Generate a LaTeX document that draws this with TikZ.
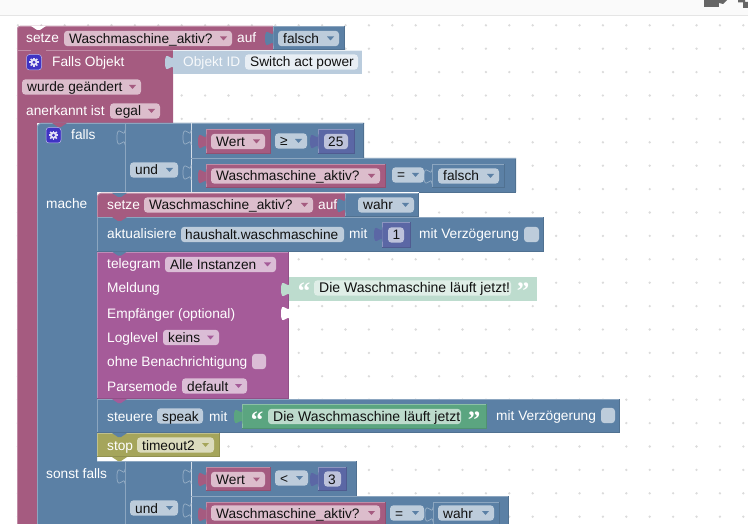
\documentclass[tikz,border=0pt]{standalone}
\usepackage{fontspec}
\setmainfont{Liberation Sans}
\newfontfamily\quotefont{Liberation Serif}
\definecolor{pinkb}{HTML}{A55B80}
\definecolor{blueb}{HTML}{5B80A5}
\definecolor{purpb}{HTML}{A55B99}
\definecolor{numb}{HTML}{5B67A5}
\definecolor{greenb}{HTML}{5BA580}
\definecolor{oliveb}{HTML}{A5A55B}
\definecolor{paleb}{HTML}{BACCDD}
\definecolor{mintb}{HTML}{BDDCCE}
\definecolor{pinkf}{HTML}{DCBDCC}
\definecolor{bluef}{HTML}{BDCCDB}
\definecolor{purpf}{HTML}{DBBDD6}
\definecolor{numf}{HTML}{BDC2DB}
\definecolor{greenf}{HTML}{BDDBCC}
\definecolor{olivef}{HTML}{DBDBBD}
\definecolor{mintf}{HTML}{DFEEE7}
\definecolor{palef}{HTML}{E8EEF4}
\definecolor{gearb}{HTML}{3F33C4}
\definecolor{inktext}{HTML}{111111}
\tikzset{
  lab/.style={anchor=base west,inner sep=0pt,text=white,yshift=-5pt,font=\fontsize{13.7}{16}\selectfont},
  val/.style={anchor=base west,inner sep=0pt,text=inktext,yshift=-5pt,font=\fontsize{13.7}{16}\selectfont},
  valw/.style={val,font=\fontsize{14}{16}\selectfont},
  qmark/.style={anchor=base,inner sep=0pt,text=white,yshift=-12pt,font=\quotefont\bfseries\fontsize{25}{25}\selectfont},
}
% block with bevel: colour x1 y1 x2 y2
\newcommand\blk[5]{%
  \fill[#1] (#2,#3) rectangle (#4,#5);
  \draw[#1!70!white,line width=.8pt] (#2+.4,#5) -- (#2+.4,#3+.4) -- (#4,#3+.4);
  \draw[#1!88!black,line width=.8pt] (#2,#5-.4) -- (#4-.4,#5-.4) -- (#4-.4,#3);
}
% puzzle tab: colour x ytop
\newcommand\tabl[3]{%
  \fill[#1] (#2+.5,#3) .. controls (#2,#3+10) and (#2-8,#3-8) .. (#2-8,#3+7.5)
     .. controls (#2-8,#3+23) and (#2,#3+5) .. (#2+.5,#3+15) -- cycle;
}
% empty input tab, outlined
\newcommand\tabo[3]{%
  \path[fill=#1,draw=#1!62!white,line width=.7pt] (#2,#3) .. controls (#2,#3+10) and (#2-8,#3-8) .. (#2-8,#3+7.5)
     .. controls (#2-8,#3+23) and (#2,#3+5) .. (#2,#3+15);
}
\newcommand\notchd[3]{\fill[#1] (#2,#3) -- (#2+6,#3+4) -- (#2+9,#3+4) -- (#2+15,#3) -- cycle;}
% field: fill x1 yc x2
\newcommand\fld[4]{\fill[#1,rounded corners=3.5pt] (#2,#3-7.7) rectangle (#4,#3+7.7);}
% dropdown field: fill arrowcolour x1 yc x2 text
\newcommand\dd[6]{%
  \fld{#1}{#3}{#4}{#5}
  \fill[#2] (#5-12,#4-2) -- (#5-5,#4-2) -- (#5-8.5,#4+2) -- cycle;
  \node[val] at (#3+5,#4) {#6};
}
\newcommand\gearic[2]{%
  \fill[gearb,rounded corners=3pt] (#1,#2) rectangle (#1+15,#2+15.5);
  \draw[white!65!gearb,line width=.5pt,rounded corners=3pt] (#1,#2) rectangle (#1+15,#2+15.5);
  \foreach \a in {0,45,...,315}{\draw[white!85!gearb,line width=1.5pt] (#1+7.5,#2+7.75) -- ++(\a:4.6pt);}
  \fill[white!85!gearb] (#1+7.5,#2+7.75) circle (3.5pt);
  \fill[gearb] (#1+7.5,#2+7.75) circle (1.6pt);
}
\begin{document}
\begin{tikzpicture}[x=1pt,y=-1pt]
\useasboundingbox (0,0) rectangle (748,524);
\fill[white] (0,0) rectangle (748,524);
% browser bar
\fill[black!2] (0,0) rectangle (748,15);
\fill[black!10] (0,14.6) rectangle (748,15.8);
\fill[black!60] (704,0) rectangle (719,7);
\fill[black!60] (719,0) -- (727,0) -- (723,4) -- (719,3) -- cycle;
\fill[black!60] (738,0) rectangle (745,2.5) (743,2) rectangle (748,8);
% workspace grid
\foreach \i in {0,...,31}{\foreach \j in {0,...,21}{
  \fill[black!14] (17.9+23.4*\i,25.3+23.4*\j) circle (1.3pt);
}}
% outer pink set block spine
\fill[pinkb] (17,29) arc[start angle=180,end angle=90,radius=3pt] -- (273,26) -- (273,50) -- (173,50) -- (173,123) -- (37,123) -- (37,530) -- (17,530) -- cycle;
\draw[pinkb!70!white,line width=.8pt] (17.4,524) -- (17.4,29) arc[start angle=180,end angle=90,radius=2.6pt] -- (273,26.4);
\draw[pinkb!70!white,line width=.7pt] (17,50.4) -- (31,50.4) (46,50.4) -- (173,50.4);
\fill[white] (31,26) -- (37,30) -- (40,30) -- (46,26) -- cycle;
\notchd{pinkb}{31}{50}
\blk{blueb}{273}{26}{345}{50}
\tabl{blueb}{273}{31}
% object id
\fill[paleb] (173,50) rectangle (362,74);
\draw[white!70!paleb,line width=.8pt] (173,50.4) -- (362,50.4);
\tabl{paleb}{173}{55}
% falls block
\fill[blueb] (37,127) arc[start angle=180,end angle=90,radius=4pt] -- (364,123) -- (364,158) -- (516,158) -- (516,192) -- (97,192) -- (97,530) -- (37,530) -- cycle;
\fill[blueb] (97,461) rectangle (357,524);
\fill[blueb] (357,496) rectangle (509,524);
\draw[blueb!70!white,line width=.8pt] (37.4,524) -- (37.4,127) arc[start angle=180,end angle=90,radius=3.6pt] -- (364,123.4);
\draw[blueb!88!black,line width=.8pt] (363.6,123) -- (363.6,158) -- (515.6,158) -- (515.6,192) -- (419,192);
\draw[blueb!70!white,line width=.8pt] (125,123) -- (125,192);
\draw[white!75!blueb,line width=.8pt] (191,123) -- (191,192);
\draw[blueb!70!white,line width=.8pt] (191,158) -- (516,158);
\draw[blueb!70!white,line width=.8pt] (125,461) -- (125,524);
\draw[white!75!blueb,line width=.8pt] (191,461) -- (191,524);
\draw[blueb!70!white,line width=.8pt] (191,496) -- (509,496);
\draw[blueb!70!white,line width=.8pt] (97,461.4) -- (357,461.4);
\draw[blueb!88!black,line width=.8pt] (356.6,461) -- (356.6,496);
\draw[blueb!88!black,line width=.8pt] (508.6,496) -- (508.6,524);
\notchd{pinkb}{52}{123}
\tabo{blueb}{125}{130}
\tabo{blueb}{191}{130}
\tabo{blueb}{191}{165}
\tabo{blueb}{125}{469}
\tabo{blueb}{191}{469}
\tabo{blueb}{191}{503}
% condition row 1
\blk{pinkb}{206}{129}{271}{154}
\tabl{pinkb}{206}{134}
\blk{numb}{318}{129}{355}{154}
\tabl{numb}{318}{134}
% condition row 2
\blk{pinkb}{206}{164}{386}{188}
\tabl{pinkb}{206}{169}
\blk{blueb}{432}{164}{505}{188}
\tabo{blueb}{432}{169}
% sonst falls row 1
\blk{pinkb}{206}{467}{271}{491}
\tabl{pinkb}{206}{472}
\blk{numb}{318}{467}{347}{491}
\tabl{numb}{318}{472}
% sonst falls row 2
\blk{pinkb}{206}{502}{386}{526}
\tabl{pinkb}{206}{507}
\blk{blueb}{433}{502}{500}{526}
\tabo{blueb}{433}{507}
% inner statements
\fill[pinkb] (97,197) arc[start angle=180,end angle=90,radius=4pt] -- (345,193) -- (345,218) -- (97,218) -- cycle;
\draw[pinkb!70!white,line width=.8pt] (97.4,218) -- (97.4,197) arc[start angle=180,end angle=90,radius=3.6pt] -- (345,193.4);
\notchd{blueb}{112}{193}
\blk{blueb}{345}{193}{419}{217}
\tabl{blueb}{345}{198}
\blk{blueb}{97}{217}{544}{252}
\notchd{pinkb}{112}{217}
\blk{numb}{382}{222}{411}{248}
\tabl{numb}{382}{227}
\blk{purpb}{97}{252}{289}{399}
\notchd{blueb}{112}{251.6}
\fill[mintb] (289,277) rectangle (537,301);
\tabl{mintb}{289}{282}
\path[fill=white] (289.5,306) .. controls (289,316) and (281,298) .. (281,313.5)
     .. controls (281,329) and (289,311) .. (289.5,321) -- cycle;
\blk{blueb}{97}{399}{620}{433}
\notchd{purpb}{112}{399}
\blk{greenb}{242}{404}{487}{429}
\tabl{greenb}{242}{409}
\blk{oliveb}{97}{433}{220}{457}
\notchd{blueb}{112}{433}
\notchd{oliveb}{112}{457}
% labels, row by row
\node[lab] (t1) at (26,38) {setze};
\dd{pinkf}{pinkb}{64}{38.5}{232}{Waschmaschine\_aktiv?}
\node[lab] (t2) at (237,38) {auf};
\dd{bluef}{blueb}{278}{38.5}{339}{falsch}
\gearic{26.5}{54.5}
\node[lab] (t3) at (52,62) {Falls Objekt};
\node[lab,text=white!88!paleb] (t4) at (183,62) {Objekt ID};
\fld{palef}{245}{62}{358}
\node[val] (t5) at (250,62) {Switch act power};
\dd{pinkf}{pinkb}{22}{87}{141}{wurde geändert}
\node[lab] (t6) at (26,111) {anerkannt ist};
\dd{pinkf}{pinkb}{110}{111}{160}{egal}
\gearic{46}{127.5}
\node[lab] (t7) at (71,135) {falls};
\dd{pinkf}{pinkb}{211}{141.5}{265}{Wert}
\dd{bluef}{blueb}{275}{141}{307}{≥}
\fld{numf}{324}{141.5}{348}
\node[val] (t8) at (328,141.5) {25};
\dd{bluef}{blueb}{130}{170}{178}{und}
\dd{pinkf}{pinkb}{211}{176}{380}{Waschmaschine\_aktiv?}
\dd{bluef}{blueb}{392}{175}{424}{=}
\dd{bluef}{blueb}{438}{176}{499}{falsch}
\node[lab] (t9) at (46,204) {mache};
\node[lab] (t10) at (107,205) {setze};
\dd{pinkf}{pinkb}{144}{205}{313}{Waschmaschine\_aktiv?}
\node[lab] (t11) at (318,205) {auf};
\dd{bluef}{blueb}{358}{205}{414}{wahr}
\node[lab] (t12) at (107,234) {aktualisiere};
\fld{bluef}{181}{234.5}{344}
\node[val] (t13) at (185,234.5) {haushalt.waschmaschine};
\node[lab] (t14) at (349,234) {mit};
\fld{numf}{388}{235}{404}
\node[val] (t15) at (392.5,235) {1};
\node[lab] (t16) at (419,234) {mit Verzögerung};
\fld{bluef}{524}{234.5}{539}
\node[lab] (t17) at (107,264) {telegram};
\dd{purpf}{purpb}{165}{264.5}{276}{Alle Instanzen}
\node[lab] (t18) at (107,288) {Meldung};
\node[qmark] (q1) at (304,288) {“};
\fld{mintf}{314}{288}{511}
\node[valw] (t19) at (319,288) {Die Waschmaschine läuft jetzt!};
\node[qmark] (q2) at (523,288) {”};
\node[lab] (t20) at (107,313) {Empfänger (optional)};
\node[lab] (t21) at (107,337) {Loglevel};
\dd{purpf}{purpb}{163}{337.5}{219}{keins}
\node[lab] (t22) at (107,361) {ohne Benachrichtigung};
\fld{purpf}{252}{361.5}{266}
\node[lab] (t23) at (107,386) {Parsemode};
\dd{purpf}{purpb}{182}{386}{247}{default}
\node[lab] (t24) at (107,416) {steuere};
\fld{bluef}{157}{416}{203}
\node[val] (t25) at (162,416) {speak};
\node[lab] (t26) at (209,416) {mit};
\node[qmark] (q3) at (257,416) {“};
\fld{greenf}{268}{416.5}{461}
\node[valw] (t27) at (273,416.5) {Die Waschmaschine läuft jetzt};
\node[qmark] (q4) at (474,416) {”};
\node[lab] (t28) at (496,415.5) {mit Verzögerung};
\fld{bluef}{601}{415.5}{615}
\node[lab] (t29) at (107,445) {stop};
\dd{olivef}{oliveb}{137}{445}{214}{timeout2}
\node[lab] (t30) at (46,473) {sonst falls};
\dd{pinkf}{pinkb}{211}{479.5}{265}{Wert}
\dd{bluef}{blueb}{275}{478}{308}{<}
\fld{numf}{324}{479}{341}
\node[val] (t31) at (328,479) {3};
\dd{bluef}{blueb}{130}{508}{178}{und}
\dd{pinkf}{pinkb}{211}{513}{380}{Waschmaschine\_aktiv?}
\dd{bluef}{blueb}{390}{513}{424}{=}
\dd{bluef}{blueb}{438}{513}{494}{wahr}
\end{tikzpicture}
\end{document}
